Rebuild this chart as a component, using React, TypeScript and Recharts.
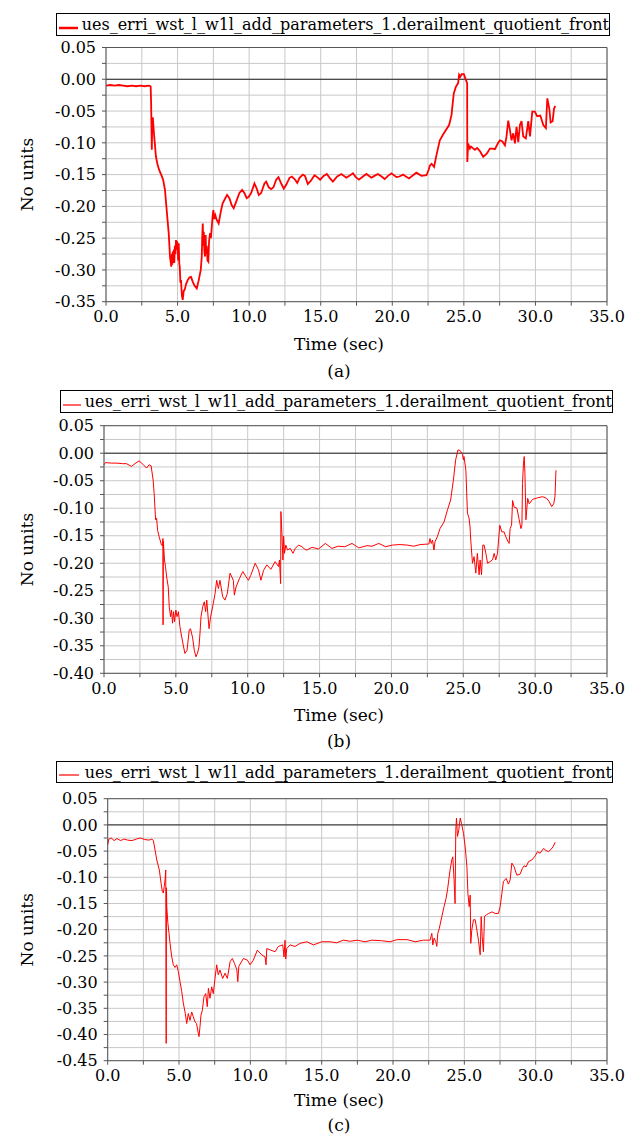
import React from 'react';
import { LineChart, Line, XAxis, YAxis, CartesianGrid, Legend, ReferenceLine } from 'recharts';

const SERIES_NAME = 'ues_erri_wst_l_w1l_add_parameters_1.derailment_quotient_front';

// time ticks, every 2.5 s (labels only on the 5 s ones)
const xTicks = [0, 2.5, 5, 7.5, 10, 12.5, 15, 17.5, 20, 22.5, 25, 27.5, 30, 32.5, 35];

const yTicksA = [-0.35, -0.325, -0.3, -0.275, -0.25, -0.225, -0.2, -0.175, -0.15, -0.125, -0.1, -0.075, -0.05, -0.025, 0, 0.025, 0.05];
const yTicksB = [-0.4, -0.375, -0.35, -0.325, -0.3, -0.275, -0.25, -0.225, -0.2, -0.175, -0.15, -0.125, -0.1, -0.075, -0.05, -0.025, 0, 0.025, 0.05];
const yTicksC = [-0.45, -0.425, -0.4, -0.375, -0.35, -0.325, -0.3, -0.275, -0.25, -0.225, -0.2, -0.175, -0.15, -0.125, -0.1, -0.075, -0.05, -0.025, 0, 0.025, 0.05];

// [time (s), derailment quotient]
const curveA: [number, number][] = [
  [0, -0.010], [0.3, -0.009], [0.6, -0.010], [0.9, -0.009], [1.2, -0.010], [1.5, -0.011], [1.8, -0.010], [2.1, -0.011],
  [2.4, -0.010], [2.7, -0.011], [3.0, -0.010], [3.12, -0.011], [3.15, -0.035], [3.18, -0.080], [3.20, -0.111], [3.23, -0.070],
  [3.27, -0.060], [3.35, -0.085], [3.49, -0.122], [3.60, -0.134], [3.72, -0.143], [3.89, -0.152], [4.00, -0.159], [4.12, -0.174],
  [4.24, -0.206], [4.38, -0.242], [4.47, -0.279], [4.56, -0.295], [4.60, -0.275], [4.63, -0.292], [4.66, -0.271], [4.70, -0.289],
  [4.74, -0.268], [4.77, -0.289], [4.81, -0.262], [4.85, -0.275], [4.89, -0.253], [4.93, -0.268], [4.97, -0.255], [5.01, -0.263],
  [5.04, -0.285], [5.08, -0.258], [5.12, -0.290], [5.15, -0.295], [5.20, -0.320], [5.24, -0.316], [5.30, -0.340], [5.36, -0.347],
  [5.43, -0.333], [5.50, -0.331], [5.60, -0.322], [5.71, -0.316], [5.82, -0.312], [5.94, -0.311], [6.05, -0.318], [6.17, -0.324],
  [6.34, -0.329], [6.48, -0.316], [6.62, -0.300], [6.69, -0.279], [6.72, -0.250], [6.76, -0.227], [6.80, -0.262], [6.83, -0.240],
  [6.87, -0.270], [6.92, -0.279], [6.96, -0.245], [7.00, -0.275], [7.04, -0.262], [7.09, -0.285], [7.15, -0.287], [7.20, -0.255],
  [7.27, -0.242], [7.33, -0.250], [7.39, -0.232], [7.45, -0.215], [7.50, -0.206], [7.57, -0.220], [7.64, -0.214], [7.73, -0.221],
  [7.87, -0.227], [8.04, -0.206], [8.15, -0.195], [8.27, -0.190], [8.46, -0.182], [8.62, -0.187], [8.78, -0.198], [8.92, -0.203],
  [9.09, -0.193], [9.32, -0.179], [9.51, -0.174], [9.67, -0.179], [9.83, -0.187], [9.97, -0.185], [10.14, -0.179], [10.37, -0.164],
  [10.53, -0.172], [10.67, -0.182], [10.84, -0.179], [11.07, -0.164], [11.19, -0.161], [11.37, -0.170], [11.54, -0.173], [11.70, -0.170],
  [11.89, -0.158], [12.05, -0.154], [12.24, -0.164], [12.42, -0.172], [12.59, -0.166], [12.82, -0.155], [12.98, -0.153], [13.17, -0.157],
  [13.36, -0.163], [13.52, -0.155], [13.75, -0.150], [13.90, -0.152], [14.10, -0.165], [14.30, -0.160], [14.57, -0.151], [14.75, -0.154],
  [14.96, -0.158], [15.20, -0.152], [15.43, -0.149], [15.65, -0.156], [15.85, -0.161], [16.15, -0.153], [16.44, -0.149], [16.79, -0.155],
  [17.00, -0.152], [17.25, -0.148], [17.45, -0.154], [17.67, -0.158], [17.95, -0.153], [18.19, -0.149], [18.54, -0.155], [18.75, -0.152],
  [19.00, -0.149], [19.25, -0.153], [19.47, -0.157], [19.70, -0.152], [19.94, -0.148], [20.29, -0.154], [20.50, -0.153], [20.75, -0.150],
  [20.95, -0.153], [21.17, -0.156], [21.45, -0.151], [21.68, -0.147], [22.04, -0.152], [22.39, -0.151], [22.55, -0.142], [22.62, -0.136],
  [22.75, -0.133], [22.92, -0.138], [23.09, -0.119], [23.32, -0.096], [23.60, -0.085], [23.97, -0.072], [24.14, -0.056], [24.22, -0.038],
  [24.30, -0.022], [24.44, -0.012], [24.60, -0.006], [24.67, 0.007], [24.75, 0.004], [24.85, 0.008], [25.00, 0.008], [25.14, -0.001],
  [25.23, -0.006], [25.24, -0.130], [25.30, -0.101], [25.42, -0.109], [25.50, -0.106], [25.60, -0.108], [25.77, -0.111], [25.93, -0.108],
  [26.12, -0.113], [26.35, -0.122], [26.60, -0.117], [26.82, -0.109], [27.00, -0.109], [27.17, -0.110], [27.40, -0.100], [27.52, -0.096],
  [27.70, -0.098], [27.87, -0.104], [27.98, -0.090], [28.10, -0.065], [28.22, -0.080], [28.33, -0.096], [28.45, -0.085], [28.57, -0.101],
  [28.68, -0.075], [28.80, -0.099], [28.92, -0.072], [29.03, -0.066], [29.15, -0.090], [29.33, -0.093], [29.50, -0.066], [29.62, -0.090],
  [29.78, -0.051], [29.96, -0.051], [30.12, -0.058], [30.34, -0.057], [30.55, -0.072], [30.73, -0.077], [30.83, -0.030], [30.97, -0.046],
  [31.06, -0.068], [31.20, -0.066], [31.30, -0.046], [31.39, -0.042],
];

const curveB: [number, number][] = [
  [0, -0.021], [0.1, -0.017], [0.5, -0.018], [0.9, -0.018], [1.3, -0.019], [1.56, -0.019], [1.91, -0.024], [2.15, -0.019],
  [2.44, -0.014], [2.70, -0.020], [2.96, -0.027], [3.14, -0.021], [3.28, -0.023], [3.42, -0.049], [3.49, -0.073], [3.59, -0.121],
  [3.66, -0.118], [3.73, -0.140], [3.84, -0.152], [4.00, -0.167], [4.08, -0.168], [4.10, -0.155], [4.11, -0.312], [4.13, -0.160],
  [4.21, -0.194], [4.28, -0.206], [4.36, -0.225], [4.47, -0.243], [4.54, -0.279], [4.63, -0.297], [4.70, -0.285], [4.77, -0.309],
  [4.84, -0.288], [4.91, -0.306], [5.00, -0.285], [5.08, -0.297], [5.18, -0.288], [5.28, -0.315], [5.47, -0.343], [5.63, -0.364],
  [5.78, -0.358], [5.93, -0.321], [6.02, -0.319], [6.17, -0.336], [6.28, -0.358], [6.40, -0.370], [6.50, -0.364], [6.61, -0.352],
  [6.68, -0.327], [6.75, -0.297], [6.87, -0.279], [6.98, -0.270], [7.07, -0.288], [7.15, -0.267], [7.26, -0.303], [7.31, -0.319],
  [7.42, -0.297], [7.56, -0.279], [7.73, -0.255], [7.84, -0.231], [7.96, -0.246], [8.07, -0.231], [8.26, -0.261], [8.42, -0.267],
  [8.58, -0.255], [8.77, -0.218], [9.00, -0.231], [9.07, -0.258], [9.19, -0.243], [9.42, -0.228], [9.66, -0.215], [9.87, -0.224],
  [10.05, -0.231], [10.21, -0.222], [10.52, -0.200], [10.75, -0.212], [10.87, -0.225], [10.92, -0.231], [11.10, -0.213], [11.33, -0.203],
  [11.61, -0.211], [11.91, -0.197], [12.14, -0.206], [12.21, -0.194], [12.29, -0.237], [12.31, -0.106], [12.38, -0.146], [12.45, -0.194],
  [12.50, -0.151], [12.56, -0.182], [12.65, -0.167], [12.77, -0.176], [12.96, -0.173], [13.15, -0.182], [13.31, -0.173], [13.54, -0.167],
  [13.77, -0.170], [14.00, -0.175], [14.12, -0.176], [14.47, -0.171], [14.93, -0.174], [15.40, -0.164], [15.86, -0.173], [16.30, -0.169],
  [16.75, -0.170], [17.26, -0.164], [17.73, -0.172], [18.30, -0.168], [18.65, -0.169], [19.12, -0.164], [19.59, -0.170], [20.06, -0.167],
  [20.60, -0.166], [21.10, -0.167], [21.56, -0.169], [22.00, -0.166], [22.61, -0.165], [22.68, -0.155], [22.77, -0.164], [22.86, -0.158],
  [22.96, -0.176], [23.03, -0.161], [23.19, -0.152], [23.38, -0.137], [23.66, -0.125], [23.90, -0.103], [24.12, -0.085], [24.31, -0.049],
  [24.47, -0.012], [24.63, 0.006], [24.77, 0.005], [24.94, -0.002], [25.01, -0.012], [25.05, -0.006], [25.18, -0.031], [25.29, -0.109],
  [25.40, -0.118], [25.47, -0.134], [25.52, -0.158], [25.64, -0.200], [25.75, -0.188], [25.87, -0.218], [25.98, -0.182], [26.10, -0.221],
  [26.17, -0.194], [26.27, -0.221], [26.36, -0.167], [26.45, -0.167], [26.57, -0.182], [26.69, -0.200], [26.87, -0.197], [27.03, -0.194],
  [27.15, -0.182], [27.26, -0.194], [27.38, -0.182], [27.54, -0.131], [27.68, -0.143], [27.84, -0.143], [27.96, -0.152], [28.12, -0.161],
  [28.19, -0.164], [28.26, -0.137], [28.36, -0.131], [28.43, -0.086], [28.54, -0.098], [28.73, -0.100], [28.89, -0.121], [29.01, -0.137],
  [29.08, -0.131], [29.12, -0.055], [29.19, -0.018], [29.24, -0.006], [29.29, -0.037], [29.36, -0.121], [29.48, -0.082], [29.59, -0.092],
  [29.82, -0.084], [30.17, -0.081], [30.52, -0.079], [30.80, -0.082], [30.98, -0.088], [31.15, -0.097], [31.29, -0.092], [31.38, -0.079],
  [31.45, -0.031],
];

const curveC: [number, number][] = [
  [0, -0.038], [0.08, -0.027], [0.25, -0.025], [0.45, -0.030], [0.65, -0.026], [0.9, -0.030], [1.15, -0.027], [1.4, -0.029],
  [1.7, -0.030], [2.0, -0.027], [2.3, -0.025], [2.6, -0.028], [2.9, -0.029], [3.1, -0.027], [3.2, -0.030], [3.32, -0.048],
  [3.44, -0.067], [3.62, -0.086], [3.74, -0.111], [3.83, -0.127], [3.90, -0.130], [3.96, -0.118], [4.02, -0.105], [4.07, -0.086],
  [4.10, -0.417], [4.12, -0.120], [4.14, -0.156], [4.22, -0.188], [4.30, -0.207], [4.37, -0.226], [4.49, -0.252], [4.60, -0.267],
  [4.72, -0.272], [4.84, -0.267], [4.95, -0.280], [5.07, -0.299], [5.19, -0.318], [5.30, -0.340], [5.44, -0.360], [5.54, -0.379],
  [5.65, -0.360], [5.77, -0.373], [5.89, -0.357], [6.00, -0.366], [6.12, -0.376], [6.23, -0.379], [6.33, -0.395], [6.40, -0.404],
  [6.47, -0.385], [6.54, -0.363], [6.63, -0.354], [6.75, -0.328], [6.87, -0.322], [6.98, -0.347], [7.06, -0.312], [7.17, -0.331],
  [7.29, -0.309], [7.40, -0.322], [7.52, -0.293], [7.64, -0.267], [7.75, -0.286], [7.87, -0.277], [8.06, -0.293], [8.23, -0.283],
  [8.39, -0.293], [8.58, -0.261], [8.74, -0.255], [8.88, -0.264], [9.05, -0.276], [9.12, -0.299], [9.19, -0.270], [9.51, -0.255],
  [9.79, -0.258], [9.98, -0.267], [10.21, -0.258], [10.49, -0.239], [10.80, -0.248], [11.03, -0.252], [11.10, -0.267], [11.15, -0.236],
  [11.43, -0.239], [11.73, -0.242], [11.96, -0.232], [12.27, -0.229], [12.36, -0.252], [12.43, -0.220], [12.48, -0.256], [12.55, -0.236],
  [12.78, -0.229], [13.13, -0.232], [13.49, -0.226], [13.96, -0.223], [14.42, -0.229], [15.01, -0.223], [15.60, -0.223], [16.05, -0.225],
  [16.52, -0.220], [17.00, -0.222], [17.50, -0.220], [18.04, -0.223], [18.50, -0.220], [19.20, -0.221], [19.80, -0.223], [20.27, -0.219],
  [21.00, -0.219], [21.55, -0.223], [22.13, -0.220], [22.60, -0.220], [22.72, -0.207], [22.79, -0.229], [22.88, -0.216], [23.00, -0.223],
  [23.07, -0.232], [23.14, -0.207], [23.25, -0.197], [23.42, -0.175], [23.58, -0.156], [23.72, -0.140], [23.82, -0.124], [23.91, -0.105],
  [24.00, -0.086], [24.12, -0.067], [24.19, -0.061], [24.28, -0.105], [24.35, -0.150], [24.40, -0.010], [24.45, 0.013], [24.52, -0.022],
  [24.61, -0.010], [24.71, 0.013], [24.80, 0.003], [24.94, -0.016], [25.06, -0.042], [25.18, -0.080], [25.25, -0.131], [25.34, -0.156],
  [25.41, -0.134], [25.45, -0.226], [25.52, -0.201], [25.64, -0.181], [25.76, -0.181], [25.88, -0.201], [25.99, -0.220], [26.11, -0.248],
  [26.18, -0.175], [26.25, -0.213], [26.34, -0.242], [26.41, -0.175], [26.53, -0.172], [26.70, -0.169], [26.93, -0.166], [27.16, -0.169],
  [27.39, -0.169], [27.51, -0.156], [27.63, -0.131], [27.74, -0.108], [27.93, -0.102], [28.09, -0.113], [28.21, -0.105], [28.33, -0.073],
  [28.49, -0.080], [28.68, -0.096], [28.91, -0.094], [29.07, -0.083], [29.19, -0.078], [29.33, -0.080], [29.50, -0.070], [29.73, -0.067],
  [29.97, -0.059], [30.13, -0.051], [30.31, -0.054], [30.55, -0.045], [30.73, -0.049], [30.90, -0.051], [31.07, -0.047], [31.21, -0.042],
  [31.37, -0.033],
];

const W = 637;
const Y_AXIS_W = 60;
const X_AXIS_H = 30;
const FONT = '"DejaVu Serif", serif';
const RED = '#ff0000';

type PanelCfg = {
  top: number;
  height: number;
  plotLeft: number;
  plotRight: number;
  plotTop: number;
  plotBottom: number;
  legend: { left: number; top: number; width: number; height: number };
  lineWidth: number;
  titleDy: number;
  captionDy: number;
};

const cfgA: PanelCfg = {
  top: 0, height: 380, plotLeft: 106, plotRight: 607, plotTop: 47.5, plotBottom: 301.7,
  legend: { left: 56, top: 13, width: 554, height: 23 }, lineWidth: 1.8, titleDy: 42, captionDy: 69,
};
const cfgB: PanelCfg = {
  top: 380, height: 370, plotLeft: 104, plotRight: 607, plotTop: 45.7, plotBottom: 293.3,
  legend: { left: 60, top: 10, width: 553, height: 23 }, lineWidth: 1, titleDy: 42, captionDy: 68,
};
const cfgC: PanelCfg = {
  top: 750, height: 385, plotLeft: 107.7, plotRight: 607, plotTop: 48.7, plotBottom: 310.7,
  legend: { left: 56, top: 11, width: 557, height: 22 }, lineWidth: 1, titleDy: 39, captionDy: 64,
};

const tickStyle = { fill: '#000', fontSize: 16, fontFamily: FONT };

const fmtX = (v: number) => (Math.round(v * 10) % 50 === 0 ? v.toFixed(1) : '');
const fmtY = (v: number) => (Math.round(v * 1000) % 50 === 0 ? v.toFixed(2) : '');

function LegendBox({ payload, thick }: any) {
  const item = payload && payload[0];
  return (
    <div
      style={{
        boxSizing: 'border-box', width: '100%', height: '100%', border: '1.5px solid #000', background: '#fff',
        display: 'flex', alignItems: 'center', justifyContent: 'center', fontFamily: FONT, fontSize: 16,
        color: '#000', whiteSpace: 'nowrap',
      }}
    >
      <svg width={24} height={14} style={{ marginRight: 4 }}>
        <line x1={2} x2={22} y1={10} y2={10} stroke={RED} strokeWidth={thick ? 2.5 : 1.2} />
      </svg>
      <span>{item ? item.value : SERIES_NAME}</span>
    </div>
  );
}

function Panel({ cfg, curve, yTicks, caption }: { cfg: PanelCfg; curve: [number, number][]; yTicks: number[]; caption: string }) {
  const rows = curve.map(([t, v]) => ({ t, v }));
  const yMin = yTicks[0];
  const yMax = yTicks[yTicks.length - 1];
  const margin = {
    top: cfg.plotTop,
    right: W - cfg.plotRight,
    left: cfg.plotLeft - Y_AXIS_W,
    bottom: cfg.height - cfg.plotBottom - X_AXIS_H,
  };
  const midY = (cfg.plotTop + cfg.plotBottom) / 2;

  return (
    <div style={{ position: 'absolute', left: 0, top: cfg.top }}>
      <LineChart width={W} height={cfg.height} data={rows} margin={margin}>
        <CartesianGrid stroke="#c8c8c8" strokeWidth={1} />
        <XAxis
          type="number"
          dataKey="t"
          domain={[0, 35]}
          ticks={xTicks}
          interval={0}
          tickFormatter={fmtX}
          tick={tickStyle}
          tickSize={4}
          tickMargin={5}
          stroke="#555"
          height={X_AXIS_H}
          label={{
            content: () => (
              <g fontFamily={FONT} fill="#000">
                <text x={339} y={cfg.plotBottom + cfg.titleDy} textAnchor="middle" dominantBaseline="central" fontSize={17}>
                  Time (sec)
                </text>
                <text x={339} y={cfg.plotBottom + cfg.captionDy} textAnchor="middle" dominantBaseline="central" fontSize={17}>
                  {caption}
                </text>
              </g>
            ),
          }}
        />
        <YAxis
          type="number"
          domain={[yMin, yMax]}
          ticks={yTicks}
          interval={0}
          tickFormatter={fmtY}
          tick={tickStyle}
          tickSize={4}
          tickMargin={6}
          stroke="#555"
          width={Y_AXIS_W}
          label={{
            content: () => (
              <text
                x={27}
                y={midY}
                transform={`rotate(-90, 27, ${midY})`}
                textAnchor="middle"
                dominantBaseline="central"
                fontFamily={FONT}
                fontSize={17}
                fill="#000"
              >
                No units
              </text>
            ),
          }}
        />
        <ReferenceLine y={0} stroke="#222" strokeWidth={1} />
        <ReferenceLine y={yMax} stroke="#555" strokeWidth={1} />
        <ReferenceLine x={35} stroke="#555" strokeWidth={1} />
        <Legend
          verticalAlign="middle"
          align="center"
          wrapperStyle={{ ...cfg.legend, position: 'absolute' }}
          content={(p: any) => <LegendBox payload={p.payload} thick={cfg.lineWidth > 1.5} />}
        />
        <Line
          type="linear"
          dataKey="v"
          name={SERIES_NAME}
          stroke={RED}
          strokeWidth={cfg.lineWidth}
          dot={false}
          activeDot={false}
          isAnimationActive={false}
        />
      </LineChart>
    </div>
  );
}

export default function App() {
  return (
    <div style={{ position: 'absolute', left: 0, top: 0, width: W, height: 1135, background: '#fff', fontFamily: FONT }}>
      <Panel cfg={cfgA} curve={curveA} yTicks={yTicksA} caption="(a)" />
      <Panel cfg={cfgB} curve={curveB} yTicks={yTicksB} caption="(b)" />
      <Panel cfg={cfgC} curve={curveC} yTicks={yTicksC} caption="(c)" />
    </div>
  );
}
